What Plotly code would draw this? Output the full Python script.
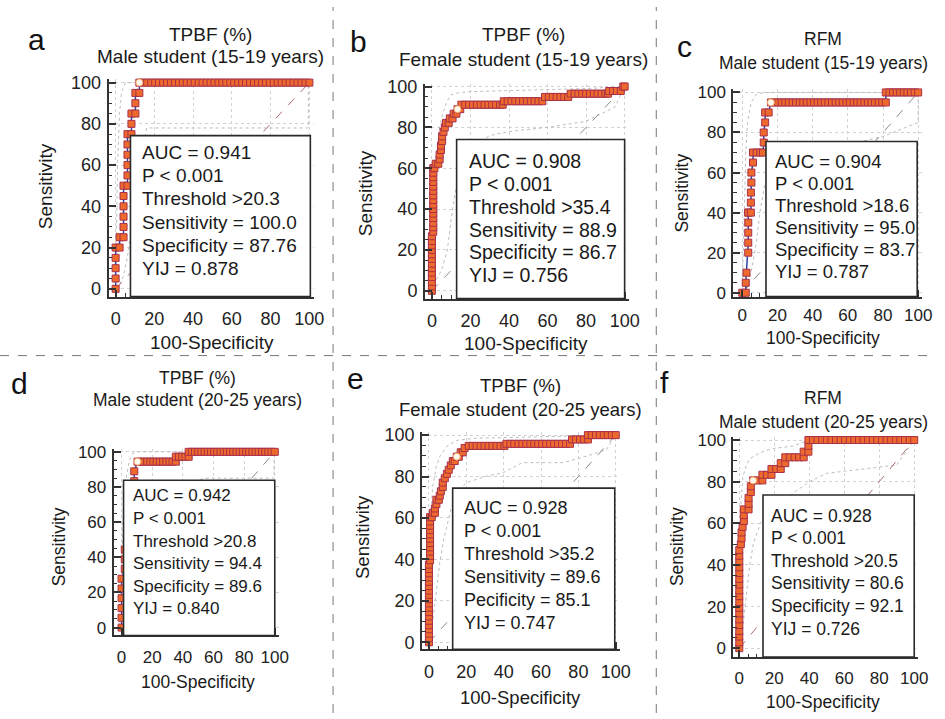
import plotly.graph_objects as go

W, H = 945, 719
FONT = "Liberation Sans, Arial, sans-serif"

# ---------------- data ----------------
diag_x = [0, 100]
diag_y = [0, 100]

# a: TPBF (%), Male 15-19
a_x = [0, 0, 0, 0, 0, 2.04, 2.04, 4.08, 4.08, 4.08, 4.08, 4.08, 4.08, 6.12, 6.12, 6.12, 6.12, 6.12, 6.12,
       8.16, 8.16, 8.16, 10.2, 10.2, 10.2, 12.24, 12.24,
       14.3, 16.3, 18.4, 20.4, 22.4, 24.5, 26.5, 28.6, 30.6, 32.7, 34.7, 36.7, 38.8, 40.8, 42.9, 44.9, 46.9,
       49.0, 51.0, 53.1, 55.1, 57.1, 59.2, 61.2, 63.3, 65.3, 67.3, 69.4, 71.4, 73.5, 75.5, 77.6, 79.6, 81.6,
       83.7, 85.7, 87.8, 89.8, 91.8, 93.9, 95.9, 98.0, 100]
a_y = [0, 5, 10, 15, 20, 20, 25, 25, 30, 35, 40, 45, 50, 50, 55, 60, 65, 70, 75,
       75, 80, 85, 85, 90, 95, 95, 100,
       100, 100, 100, 100, 100, 100, 100, 100, 100, 100, 100, 100, 100, 100, 100, 100, 100,
       100, 100, 100, 100, 100, 100, 100, 100, 100, 100, 100, 100, 100, 100, 100, 100, 100,
       100, 100, 100, 100, 100, 100, 100, 100, 100]
a_opt = ([12.24], [100])
a_ciu = ([0, 0.5, 1, 2, 3, 5, 100], [0, 30, 60, 85, 95, 100, 100])
a_cil = ([0, 2, 4, 6, 8, 10, 12, 14, 16, 99.5, 99.5], [0, 2, 6, 15, 28, 42, 55, 66, 78, 78, 100])
a_stats = ["AUC = 0.941", "P < 0.001", "Threshold >20.3", "Sensitivity = 100.0",
           "Specificity = 87.76", "YIJ = 0.878"]

# b: TPBF (%), Female 15-19
b_x = [0, 0, 0, 0, 0, 0, 0, 0, 0, 0, 0, 0, 0, 0.7, 0.7, 0.7, 0.7, 0.7, 0.7, 0.7, 0.7, 0.7, 0.7, 0.7, 0.7,
       0.7, 0.7, 0.7,
       1.3, 2.0, 3.3, 4.0, 4.0, 4.7, 4.7, 5.3, 5.3, 6.0, 6.7, 7.3, 8.7, 9.3, 10.7, 11.3, 12.7, 13.3, 14.7,
       15.3, 17.3, 19.3, 21.3, 23.3, 25.3, 27.3, 29.3, 31.3, 33.3, 35.3, 36.7,
       37.3, 39.3, 41.3, 43.3, 45.3, 47.3, 49.3, 51.3, 53.3, 55.3, 57.3,
       58.7, 60.7, 62.7, 64.7, 66.7, 68.7, 70.7,
       72.0, 74.0, 76.0, 78.0, 80.0, 82.0, 84.0, 86.0, 88.0, 90.0, 91.3,
       92.0, 94.0, 96.0, 98.0, 99.3, 100]
b_y = [0, 2.2, 4.4, 6.7, 8.9, 11.1, 13.3, 15.6, 17.8, 20.0, 22.2, 24.4, 26.7, 28.9, 31.1, 33.3, 35.6, 37.8,
       40.0, 42.2, 44.4, 46.7, 48.9, 51.1, 53.3, 55.6, 57.8, 60.0,
       60.0, 62.2, 62.2, 64.4, 66.7, 68.9, 71.1, 73.3, 75.6, 77.8, 80.0, 82.2, 82.2, 84.4, 84.4, 86.7, 86.7,
       88.9, 88.9,
       91.1, 91.1, 91.1, 91.1, 91.1, 91.1, 91.1, 91.1, 91.1, 91.1, 91.1, 91.1,
       92.8, 92.8, 92.8, 92.8, 92.8, 92.8, 92.8, 92.8, 92.8, 92.8, 92.8,
       94.9, 94.9, 94.9, 94.9, 94.9, 94.9, 94.9,
       96.5, 96.5, 96.5, 96.5, 96.5, 96.5, 96.5, 96.5, 96.5, 96.5, 96.5,
       97.8, 97.8, 97.8, 97.8, 100, 100]
b_opt = ([13.3], [88.9])
b_ciu = ([0, 0, 1, 2, 4, 6, 8, 10, 14, 20, 40, 60, 80, 100],
         [0, 20, 45, 65, 80, 88, 93, 96, 97, 97.5, 98, 98.5, 99, 100])
b_cil = ([0, 2, 5, 8, 10, 12, 15, 20, 30, 40, 60, 80, 95, 100],
         [0, 5, 10, 20, 35, 48, 60, 70, 76, 78, 80, 83, 90, 100])
b_stats = ["AUC = 0.908", "P < 0.001", "Threshold >35.4", "Sensitivity = 88.9",
           "Specificity = 86.7", "YIJ = 0.756"]

# c: RFM, Male 15-19
c_x = [0, 2.0, 2.0, 2.4, 3.4, 3.4, 3.4, 3.4, 3.4, 3.4, 4.9, 4.9, 4.9, 5.2, 5.2, 6.1, 6.1, 8.2, 10.2, 11.8,
       12.2, 12.2, 13.0, 13.0, 15.0, 16.3,
       18.4, 20.4, 22.4, 24.5, 26.5, 28.6, 30.6, 32.7, 34.7, 36.7, 38.8, 40.8, 42.9, 44.9, 46.9, 49.0,
       51.0, 53.1, 55.1, 57.1, 59.2, 61.2, 63.3, 65.3, 67.3, 69.4, 71.4, 73.5, 75.5, 77.6, 79.6, 81.6,
       81.6, 83.7, 85.7, 87.8, 89.8, 91.8, 93.9, 95.9, 98.0, 100]
c_y = [0, 0, 5, 10, 20, 25, 30, 35, 40, 40, 40, 45, 50, 55, 60, 65, 70, 70, 70, 70,
       75, 80, 85, 90, 90, 95,
       95, 95, 95, 95, 95, 95, 95, 95, 95, 95, 95, 95, 95, 95, 95, 95,
       95, 95, 95, 95, 95, 95, 95, 95, 95, 95, 95, 95, 95, 95, 95, 95,
       100, 100, 100, 100, 100, 100, 100, 100, 100, 100]
c_opt = ([16.3], [95])
c_ciu = ([0, 0.5, 1, 2, 3, 5, 8, 12, 100], [0, 20, 45, 70, 85, 95, 99, 100, 100])
c_cil = ([0, 3, 5, 8, 10, 13, 16, 20, 40, 60, 80, 100, 100],
         [0, 3, 10, 25, 40, 55, 65, 70, 72, 74, 78, 85, 100])
c_stats = ["AUC = 0.904", "P < 0.001", "Threshold >18.6", "Sensitivity = 95.0",
           "Specificity = 83.7", "YIJ = 0.787"]

# d: TPBF (%), Male 20-25
d_x = [0, 0, 0, 0, 0, 0, 2.1, 2.1, 2.1, 4.2, 4.2, 4.2, 6.3, 6.3, 6.3, 8.3, 8.3, 10.4,
       12.5, 14.6, 16.7, 18.8, 20.8, 22.9, 25.0, 27.1, 29.2, 31.3, 33.3, 35.4,
       35.4, 37.5, 39.6, 41.7, 43.8,
       43.8, 45.8, 47.9, 50.0, 52.1, 54.2, 56.3, 58.3, 60.4, 62.5, 64.6, 66.7, 68.8, 70.8, 72.9, 75.0,
       77.1, 79.2, 81.3, 83.3, 85.4, 87.5, 89.6, 91.7, 93.8, 95.8, 97.9, 100]
d_y = [0, 5.6, 11.1, 16.7, 22.2, 27.8, 33.3, 38.9, 44.4, 50.0, 55.6, 61.1, 66.7, 72.2, 77.8, 83.3, 88.9, 94.4,
       94.4, 94.4, 94.4, 94.4, 94.4, 94.4, 94.4, 94.4, 94.4, 94.4, 94.4, 94.4,
       97.2, 97.2, 97.2, 97.2, 97.2,
       100, 100, 100, 100, 100, 100, 100, 100, 100, 100, 100, 100, 100, 100, 100, 100,
       100, 100, 100, 100, 100, 100, 100, 100, 100, 100, 100, 100]
d_opt = ([10.4], [94.4])
d_ciu = ([0, 0, 1, 3, 5, 8, 100], [0, 30, 60, 85, 95, 100, 100])
d_cil = ([0, 2, 5, 8, 10, 15, 30, 55, 99.5, 99.5], [0, 5, 20, 45, 60, 75, 80, 85, 85, 100])
d_stats = ["AUC = 0.942", "P < 0.001", "Threshold >20.8", "Sensitivity = 94.4",
           "Specificity = 89.6", "YIJ = 0.840"]

# e: TPBF (%), Female 20-25
e_x = [0, 0, 0, 0, 0, 0, 0, 0, 0, 0, 0, 0, 0, 0, 0, 0, 0, 0, 0,
       0.6, 0.6, 0.6, 0.6, 0.6, 0.6, 0.6, 0.6, 0.6, 0.6, 0.6,
       1.5, 2.1, 3.2, 3.2, 4.0, 4.0, 5.3, 5.8, 6.4, 7.4, 7.4, 8.5, 9.6, 10.6, 11.7, 12.8, 13.8, 14.9,
       16.0, 17.0, 18.1, 19.1,
       21.3, 23.4, 25.5, 27.7, 29.8, 31.9, 34.0, 36.2, 38.3, 40.4,
       41.5, 43.6, 45.7, 47.9, 50.0, 52.1, 54.3, 56.4, 58.5, 60.6, 62.8, 64.9, 67.0, 69.1, 71.3, 73.4, 75.5,
       76.6, 78.7, 80.9, 83.0, 85.1,
       85.1, 87.2, 89.4, 91.5, 93.6, 95.7, 97.9, 100]
e_y = [0, 2.1, 4.2, 6.3, 8.3, 10.4, 12.5, 14.6, 16.7, 18.8, 20.8, 22.9, 25.0, 27.1, 29.2, 31.3, 33.3, 35.4, 37.5,
       39.6, 41.7, 43.8, 45.8, 47.9, 50.0, 52.1, 54.2, 56.3, 58.3, 60.4,
       60.4, 62.5, 62.5, 64.6, 66.7, 68.8, 68.8, 70.8, 72.9, 75.0, 77.1, 79.2, 81.3, 83.3, 85.4, 87.5, 87.5, 89.6,
       89.6, 91.7, 91.7, 93.8,
       94.8, 94.8, 94.8, 94.8, 94.8, 94.8, 94.8, 94.8, 94.8, 94.8,
       95.8, 95.8, 95.8, 95.8, 95.8, 95.8, 95.8, 95.8, 95.8, 95.8, 95.8, 95.8, 95.8, 95.8, 95.8, 95.8, 95.8,
       97.9, 97.9, 97.9, 97.9, 97.9,
       100, 100, 100, 100, 100, 100, 100, 100]
e_opt = ([14.9], [89.6])
e_ciu = ([0, 0, 1, 2, 4, 6, 10, 15, 25, 50, 80, 100],
         [0, 40, 62, 75, 85, 90, 95, 97.5, 98.5, 99, 99.5, 100])
e_cil = ([0, 2, 4, 6, 8, 10, 12, 15, 20, 30, 40, 50, 72, 85, 95, 100],
         [0, 10, 25, 40, 50, 58, 65, 72, 77, 80, 82, 86.7, 86.7, 90, 93, 100])
e_stats = ["AUC = 0.928", "P < 0.001", "Threshold >35.2", "Sensitivity = 89.6",
           "Pecificity = 85.1", "YIJ = 0.747"]

# f: RFM, Male 20-25
f_x = [0, 0, 0, 0, 0, 0, 0, 0, 0, 0, 0, 0, 0, 0, 0, 0, 0, 0,
       0.9, 1.3, 1.3, 1.9, 2.6, 2.6, 2.6, 5.3, 5.3, 5.3, 6.6, 6.6, 7.9,
       10.5, 13.2, 13.2, 15.8, 18.4, 18.4, 21.1, 23.7, 23.7, 26.3, 26.3, 28.9, 31.6, 34.2, 36.8, 36.8, 39.5,
       39.5, 39.5,
       42.1, 44.7, 47.4, 50.0, 52.6, 55.3, 57.9, 60.5, 63.2, 65.8, 68.4, 71.1, 73.7, 76.3, 78.9, 81.6,
       84.2, 86.8, 89.5, 92.1, 94.7, 97.4, 100]
f_y = [0, 2.8, 5.6, 8.3, 11.1, 13.9, 16.7, 19.4, 22.2, 25.0, 27.8, 30.6, 33.3, 36.1, 38.9, 41.7, 44.4, 47.2,
       50.0, 52.8, 55.6, 58.3, 61.1, 63.9, 66.7, 66.7, 69.4, 72.2, 75.0, 77.8, 80.6,
       80.6, 80.6, 83.3, 83.3, 83.3, 86.1, 86.1, 86.1, 88.9, 88.9, 91.7, 91.7, 91.7, 91.7, 91.7, 94.4, 94.4,
       97.2, 100,
       100, 100, 100, 100, 100, 100, 100, 100, 100, 100, 100, 100, 100, 100, 100, 100,
       100, 100, 100, 100, 100, 100, 100]
f_opt = ([7.9], [80.6])
f_ciu = ([0, 0, 1, 2, 4, 6, 10, 15, 20, 30, 40, 100],
         [0, 45, 70, 82, 88, 91, 93, 95, 96, 97, 100, 100])
f_cil = ([0, 2, 4, 6, 8, 12, 20, 30, 40, 50, 70, 90, 100],
         [0, 10, 25, 40, 50, 60, 68, 74, 80, 84, 86, 88, 100])
f_stats = ["AUC = 0.928", "P < 0.001", "Threshold >20.5", "Sensitivity = 80.6",
           "Specificity = 92.1", "YIJ = 0.726"]

letters = ["a", "b", "c", "d", "e", "f"]
titles1 = ["TPBF (%)", "TPBF (%)", "RFM", "TPBF (%)", "TPBF (%)", "RFM"]
titles2 = ["Male student (15-19 years)", "Female student (15-19 years)", "Male student (15-19 years)",
           "Male student (20-25 years)", "Female student (20-25 years)", "Male student (20-25 years)"]
tick_vals = [0, 20, 40, 60, 80, 100]
x_title = "100-Specificity"
y_title = "Sensitivity"

curves = [(a_x, a_y, a_opt, a_ciu, a_cil, a_stats), (b_x, b_y, b_opt, b_ciu, b_cil, b_stats),
          (c_x, c_y, c_opt, c_ciu, c_cil, c_stats), (d_x, d_y, d_opt, d_ciu, d_cil, d_stats),
          (e_x, e_y, e_opt, e_ciu, e_cil, e_stats), (f_x, f_y, f_opt, f_ciu, f_cil, f_stats)]

# ---------------- layout geometry (pixels) ----------------
# x0,x100,y0,y100: pixel of data 0/100; xL,xR,yB,yT: axis line extents
geo = [
    dict(x0=117, x100=313, xL=110, xR=318, y0=287, y100=77, yB=295, yT=73,
         box=(132, 131, 314), tx=142, ty=148, dy=23.7, let=(37, 33), tc=213, t1=28, t2=50,
         st=(46, 182), xt=(215, 342), fs=19, ts=19, ks=18, xs=5),
    dict(x0=437, x100=632, xL=430, xR=636, y0=289, y100=81, yB=297, yT=78,
         box=(462, 135, 632), tx=472, ty=157, dy=23.2, let=(363, 35), tc=530, t1=28, t2=53,
         st=(370, 190), xt=(532, 343), fs=19.5, ts=19, ks=18, xs=5),
    dict(x0=751, x100=929, xL=742, xR=933, y0=291, y100=87, yB=295, yT=84,
         box=(775, 137, 928), tx=782, ty=157, dy=22.5, let=(693, 40), tc=833, t1=33, t2=57,
         st=(690, 189), xt=(833, 337), fs=18.5, ts=17.5, ks=17, xs=2),
    dict(x0=123, x100=278, xL=115, xR=282, y0=632, y100=453, yB=640, yT=450,
         box=(125, 482, 278), tx=133, ty=498, dy=23.0, let=(20, 383), tc=200, t1=378, t2=400,
         st=(60, 550), xt=(200, 687), fs=17, ts=17.5, ks=17, xs=5),
    dict(x0=434, x100=623, xL=427, xR=627, y0=647, y100=436, yB=654, yT=433,
         box=(458, 490, 622), tx=467, ty=510, dy=23.4, let=(360, 378), tc=527, t1=385, t2=410,
         st=(367, 540), xt=(527, 703), fs=18, ts=18.5, ks=18, xs=5),
    dict(x0=748, x100=925, xL=742, xR=929, y0=653, y100=441, yB=662, yT=438,
         box=(772, 497, 925), tx=778, ty=518, dy=23.0, let=(672, 382), tc=833, t1=398, t2=423,
         st=(685, 550), xt=(833, 708), fs=17.5, ts=17.5, ks=17, xs=5),
]


def px(x):
    return x / W


def py(y):
    return 1 - y / H


fig = go.Figure()
annotations = []
shapes = []
layout_axes = {}

for i, (cx, cy, opt, ciu, cil, stats) in enumerate(curves):
    g = geo[i]
    k = "" if i == 0 else str(i + 1)
    xref, yref = "x" + k, "y" + k
    sx = (g["x100"] - g["x0"]) / 100.0
    sy = (g["y0"] - g["y100"]) / 100.0
    xr = [(g["xL"] - g["x0"]) / sx, (g["xR"] - g["x0"]) / sx]
    yr = [(g["y0"] - g["yB"]) / sy, (g["y0"] - g["yT"]) / sy]
    common = dict(showline=True, linewidth=2, linecolor="#333", mirror=False, zeroline=False,
                  showgrid=True, gridcolor="#d2d2d2", griddash="dot", gridwidth=1,
                  tickmode="array", tickvals=tick_vals, ticks="inside", ticklen=7, tickwidth=1.5,
                  tickcolor="#333",
                  minor=dict(ticks="inside", dtick=5, tick0=0, ticklen=3.5, tickwidth=1,
                             tickcolor="#333", showgrid=False),
                  tickfont=dict(family=FONT, size=g["ks"], color="#222"), fixedrange=True)
    layout_axes["xaxis" + k] = dict(domain=[px(g["xL"]), px(g["xR"])], range=xr, anchor=yref,
                                    ticklabelstandoff=g["xs"], **common)
    layout_axes["yaxis" + k] = dict(domain=[py(g["yB"]), py(g["yT"])], range=yr, anchor=xref,
                                    ticklabelstandoff=2, **common)

    # confidence bands
    for cb in (ciu, cil):
        fig.add_trace(go.Scatter(x=cb[0], y=cb[1], mode="lines", xaxis=xref, yaxis=yref,
                                 line=dict(color="#b4b4b4", width=0.9, dash="dot"),
                                 hoverinfo="skip", showlegend=False))
    # diagonal
    dcol = "#b06a6a" if i in (0, 5) else "#8a8a8a"
    fig.add_trace(go.Scatter(x=diag_x, y=diag_y, mode="lines", xaxis=xref, yaxis=yref,
                             line=dict(color=dcol, width=1, dash="dash"),
                             hoverinfo="skip", showlegend=False))
    # ROC curve
    fig.add_trace(go.Scatter(x=cx, y=cy, mode="lines+markers", xaxis=xref, yaxis=yref,
                             line=dict(color="#2f3fa8", width=1.5),
                             marker=dict(symbol="square", size=7, color="#EE6A2C",
                                         line=dict(color="#A8304A", width=1)),
                             cliponaxis=False, showlegend=False))
    fig.add_trace(go.Scatter(x=opt[0], y=opt[1], mode="markers", xaxis=xref, yaxis=yref,
                             marker=dict(symbol="circle", size=7, color="#fffaf0",
                                         line=dict(color="#f2a15e", width=1)),
                             cliponaxis=False, showlegend=False))

    # statistics box
    bl, bt, br = g["box"]
    shapes.append(dict(type="rect", xref="paper", yref="paper", layer="above",
                       x0=px(bl), x1=px(br), y0=py(g["yB"]), y1=py(bt),
                       fillcolor="white", line=dict(color="#2a2a2a", width=1.6)))
    for j, s in enumerate(stats):
        annotations.append(dict(text=s, x=px(g["tx"]), y=py(g["ty"] + j * g["dy"]),
                                xref="paper", yref="paper", xanchor="left", yanchor="middle",
                                showarrow=False, font=dict(family=FONT, size=g["fs"], color="#1a1a1a")))
    # titles
    for t, ty in ((titles1[i], g["t1"]), (titles2[i], g["t2"])):
        annotations.append(dict(text=t, x=px(g["tc"]), y=py(ty), xref="paper", yref="paper",
                                xanchor="center", yanchor="middle", showarrow=False,
                                font=dict(family=FONT, size=g["ts"], color="#1a1a1a")))
    annotations.append(dict(text=letters[i], x=px(g["let"][0]), y=py(g["let"][1]), xref="paper",
                            yref="paper", xanchor="center", yanchor="middle", showarrow=False,
                            font=dict(family=FONT, size=30, color="#111")))
    annotations.append(dict(text=y_title, x=px(g["st"][0]), y=py(g["st"][1]), xref="paper", yref="paper",
                            xanchor="center", yanchor="middle", textangle=-90, showarrow=False,
                            font=dict(family=FONT, size=g["ts"], color="#1a1a1a")))
    annotations.append(dict(text=x_title, x=px(g["xt"][0]), y=py(g["xt"][1]), xref="paper", yref="paper",
                            xanchor="center", yanchor="middle", showarrow=False,
                            font=dict(family=FONT, size=g["ts"], color="#1a1a1a")))

# dashed panel dividers
for xv in (337, 664):
    shapes.append(dict(type="line", xref="paper", yref="paper", x0=px(xv), x1=px(xv), y0=0, y1=1,
                       line=dict(color="#777", width=1, dash="dash")))
shapes.append(dict(type="line", xref="paper", yref="paper", x0=0, x1=1, y0=py(355), y1=py(355),
                   line=dict(color="#777", width=1, dash="dash")))

fig.update_layout(width=W, height=H, margin=dict(l=0, r=0, t=0, b=0),
                  paper_bgcolor="white", plot_bgcolor="white",
                  annotations=annotations, shapes=shapes, showlegend=False, **layout_axes)

fig.write_html("out.html")
